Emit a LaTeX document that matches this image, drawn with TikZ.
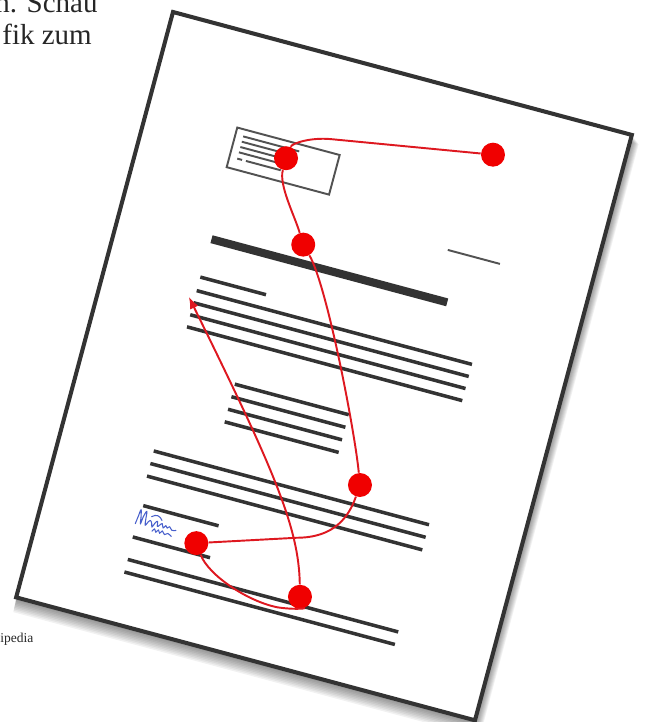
\documentclass[tikz,border=0pt]{standalone}
\usepackage{fontspec}
\setmainfont{Liberation Serif}
\usetikzlibrary{arrows.meta}
\definecolor{PageInk}{RGB}{51,51,51}
\definecolor{RouteRed}{RGB}{222,24,32}
\definecolor{StopRed}{RGB}{240,0,0}
\definecolor{InkBlue}{RGB}{72,96,204}

\begin{document}
\begin{tikzpicture}[x=0.02cm, y=-0.02cm,
    sheet/.style={draw=PageInk, line width=2.3pt, fill=white, line join=miter},
    textline/.style={draw=PageInk, line width=2pt},
    headline/.style={draw=PageInk, line width=4.6pt},
    thinline/.style={draw=PageInk!85, line width=1.1pt},
    route/.style={draw=RouteRed, line width=1.1pt},
    stop/.style={circle, fill=StopRed, minimum size=0.48cm, inner sep=0pt},
    sign/.style={draw=InkBlue, line width=0.6pt, line cap=round, line join=round},
    pagetext/.style={font=\fontsize{16.5pt}{19pt}\selectfont, text=black!85, inner sep=0pt, anchor=base west},
    credit/.style={font=\fontsize{7.7pt}{9pt}\selectfont, text=black!85, inner sep=0pt, anchor=base west}
  ]
  \useasboundingbox (0,0) rectangle (646,722);
  \clip (0,0) rectangle (646,722);

  \node[pagetext] (schau) at (-5,13) {n. Schau};
  \node[pagetext] (zum) at (2,45) {fik zum};
  \node[credit] (wiki) at (0,642) {ipedia};

  \begin{scope}[shift={(173,12)}, rotate=-15]
    % soft shadow under the sheet
    \foreach \s in {1,...,10}
      \fill[black, opacity=0.055] (0.5*\s-0.4*\s,1.1*\s-0.4*\s) -- (475+0.5*\s+0.4*\s,1.1*\s-0.4*\s)
        -- (475+0.5*\s+0.4*\s,606+1.1*\s+0.4*\s) -- (0.5*\s-0.4*\s,606+1.1*\s+0.4*\s) -- cycle;
    \draw[sheet] (0,0) -- (475,0) -- (475,606) -- (0,606) -- cycle;

    % address field
    \draw[thinline] (92,95) -- (198,95) -- (198,136) -- (92,136) -- cycle;
    \foreach \v/\e in {102/158, 107.5/155, 113/151, 118.5/147}
      \draw[thinline] (100,\v) -- (\e,\v);
    \draw[thinline] (100,125) -- (105,125) (109,125) -- (145,125);

    \draw[thinline] (327,158.7) -- (381,158.7);
    \draw[headline] (96,209.5) -- (340,209.5);

    \draw[textline] (95,249) -- (163,249);
    \foreach \v in {263,275.5,288,300.5}
      \draw[textline] (95,\v) -- (380,\v);
    \foreach \v in {343.5,356.5,369.5,382.5}
      \draw[textline] (156,\v) -- (274,\v);
    \foreach \v in {429,442,455}
      \draw[textline] (95,\v) -- (380,\v);
    \draw[textline] (99,484.5) -- (177,484.5);
    \draw[textline] (97,517.5) -- (177,517.5);
    \foreach \v in {540.5,553.5}
      \draw[textline] (98,\v) -- (378,\v);

    % signature
    \draw[sign] plot[smooth, tension=0.6] coordinates {(96,504) (97,496) (98,489) (100,497) (101,503)
      (102,495) (104,489) (105,497) (106,503) (108,499) (110,497) (112,500) (113,503) (115,498)
      (117,496) (118,501) (120,499) (122,497) (124,501) (126,498) (128,500) (130,498) (133,501) (137,500)};
    \draw[sign] (110,493) .. controls (114,489) and (118,490) .. (121,494);
    \draw[sign] plot[smooth, tension=0.6] coordinates {(114,507) (116,504) (118,507) (120,504)
      (122,507) (124,504) (127,507) (130,505) (134,507)};

    \node[stop] (d1) at (147,112) {};
    \node[stop] (d2) at (346,55) {};
    \node[stop] (d3) at (186,191) {};
    \node[stop] (d4) at (303,408.5) {};
    \node[stop] (d5) at (160,507) {};
    \node[stop] (d6) at (274,532) {};
    \coordinate (tip) at (89,271);

    \draw[route] (d2) -- (185,82) .. controls (165,85.5) and (149,96) .. (d1);
    \draw[route] (d1) .. controls (147,140) and (170,165) .. (d3);
    \draw[route] (d3) .. controls (220,225) and (285,360) .. (d4);
    \draw[route] (d4) .. controls (300,450) and (285,468) .. (255,476) -- (d5);
    \draw[route] (d5) .. controls (180,535) and (225,550) .. (255,548)
      .. controls (272,546) and (282,542) .. (d6);
    \draw[route, -{Latex[length=0.24cm, width=0.18cm]}] (d6) .. controls (255,465) and (215,415) .. (tip);
  \end{scope}
\end{tikzpicture}
\end{document}
